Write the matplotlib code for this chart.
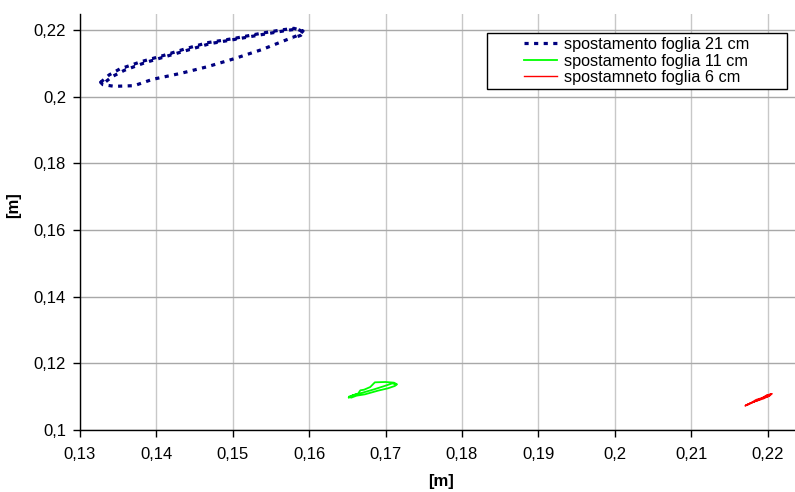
import numpy as np
import matplotlib
matplotlib.use("Agg")
import matplotlib.pyplot as plt
from matplotlib.ticker import FuncFormatter
from matplotlib.patches import Rectangle

plt.rcParams['font.family'] = ['Liberation Sans', 'DejaVu Sans']

# foglia 21 cm (un giro completo + ripasso parziale)
x21 = [0.1327, 0.1338, 0.1352, 0.1380, 0.1410, 0.1440, 0.1467, 0.1500, 0.1537, 0.1563,
       0.1580, 0.1592, 0.1588, 0.1583, 0.1563, 0.1539, 0.1502, 0.1467, 0.1432, 0.1395,
       0.1371, 0.1345, 0.1330, 0.1327,
       0.1331, 0.1342, 0.1358, 0.1385, 0.1413, 0.1443, 0.1470, 0.1503, 0.1540, 0.1566,
       0.1584, 0.1593, 0.1589, 0.1578]
y21 = [0.2043, 0.2065, 0.2083, 0.2105, 0.2124, 0.2145, 0.2162, 0.2174, 0.2190, 0.2200,
       0.2205, 0.2197, 0.2188, 0.2182, 0.2164, 0.2142, 0.2114, 0.2090, 0.2070, 0.2052,
       0.2033, 0.2031, 0.2036, 0.2043,
       0.2040, 0.2060, 0.2079, 0.2102, 0.2121, 0.2141, 0.2159, 0.2172, 0.2187, 0.2197,
       0.2203, 0.2194, 0.2184, 0.2175]

# foglia 11 cm
x11 = [0.1652, 0.1657, 0.1664, 0.1667, 0.1672, 0.1680, 0.1686, 0.1700, 0.1711, 0.1715,
       0.1712, 0.1703, 0.1690, 0.1673, 0.1662, 0.1655, 0.1652, 0.1660, 0.1670, 0.1685,
       0.1700, 0.1709, 0.1713]
y11 = [0.1097, 0.1104, 0.1109, 0.1119, 0.1121, 0.1129, 0.1143, 0.1144, 0.1142, 0.1137,
       0.1132, 0.1125, 0.1118, 0.1107, 0.1103, 0.1097, 0.1100, 0.1106, 0.1112, 0.1122,
       0.1133, 0.1140, 0.1137]

# foglia 6 cm
x6 = [0.2171, 0.2177, 0.2184, 0.2189, 0.2194, 0.2199, 0.2205, 0.2202, 0.2196, 0.2189,
      0.2182, 0.2175, 0.2171, 0.2179, 0.2187, 0.2195, 0.2203, 0.2206, 0.2200, 0.2192,
      0.2185, 0.2178, 0.2174]
y6 = [0.1072, 0.1080, 0.1086, 0.1090, 0.1097, 0.1105, 0.1108, 0.1101, 0.1098, 0.1092,
      0.1084, 0.1076, 0.1074, 0.1082, 0.1088, 0.1094, 0.1103, 0.1109, 0.1104, 0.1096,
      0.1091, 0.1081, 0.1077]

xticks = [0.13, 0.14, 0.15, 0.16, 0.17, 0.18, 0.19, 0.20, 0.21, 0.22]
yticks = [0.10, 0.12, 0.14, 0.16, 0.18, 0.20, 0.22]


def virgola(v, pos):
    s = f"{v:.2f}".rstrip('0')
    return s.replace('.', ',')


fig = plt.figure(figsize=(7.95, 4.92), dpi=100)
ax = fig.add_axes([80 / 795, 62 / 492, 715 / 795, (430 - 14) / 492])

ax.plot(x21, y21, color='#000080', lw=2.3, ls=(0, (1.3, 1.7)), label='spostamento foglia 21 cm')
ax.plot(x11, y11, color='#00ff00', lw=1.3, label='spostamento foglia 11 cm')
ax.plot(x6, y6, color='#ff0000', lw=1.0, label='spostamneto foglia 6 cm')

ax.set_xlim(0.13, 0.2236)
ax.set_ylim(0.10, 0.2248)
ax.set_xticks(xticks)
ax.set_yticks(yticks)
ax.xaxis.set_major_formatter(FuncFormatter(virgola))
ax.yaxis.set_major_formatter(FuncFormatter(virgola))
ax.tick_params(direction='out', length=5, width=1, labelsize=12, color='black', pad=5)
ax.tick_params(axis='x', pad=7)

ax.xaxis.grid(True, color='#c8c8c8', lw=1)
ax.yaxis.grid(True, color='#a8a8a8', lw=1)
ax.set_axisbelow(True)

for s in ['top', 'right']:
    ax.spines[s].set_visible(False)
for s in ['left', 'bottom']:
    ax.spines[s].set_color('black')
    ax.spines[s].set_linewidth(1)

ax.set_xlabel('[m]', fontsize=12, fontweight='bold')
ax.set_ylabel('[m]', fontsize=12, fontweight='bold')
ax.xaxis.set_label_coords(0.505, -0.105)
ax.yaxis.set_label_coords(-0.082, 0.54)

# riquadro della legenda
box = Rectangle((0.569, 0.8197), 0.4196, 0.1346, transform=ax.transAxes,
                facecolor='white', edgecolor='black', lw=1, zorder=5)
ax.add_patch(box)
leg = ax.legend(loc='center', bbox_to_anchor=(0.779, 0.887), fontsize=11.7,
                frameon=False, handlelength=2.0, borderpad=0, labelspacing=0.1,
                handletextpad=0.45)
leg.set_zorder(6)

fig.savefig('out.png', dpi=100)
